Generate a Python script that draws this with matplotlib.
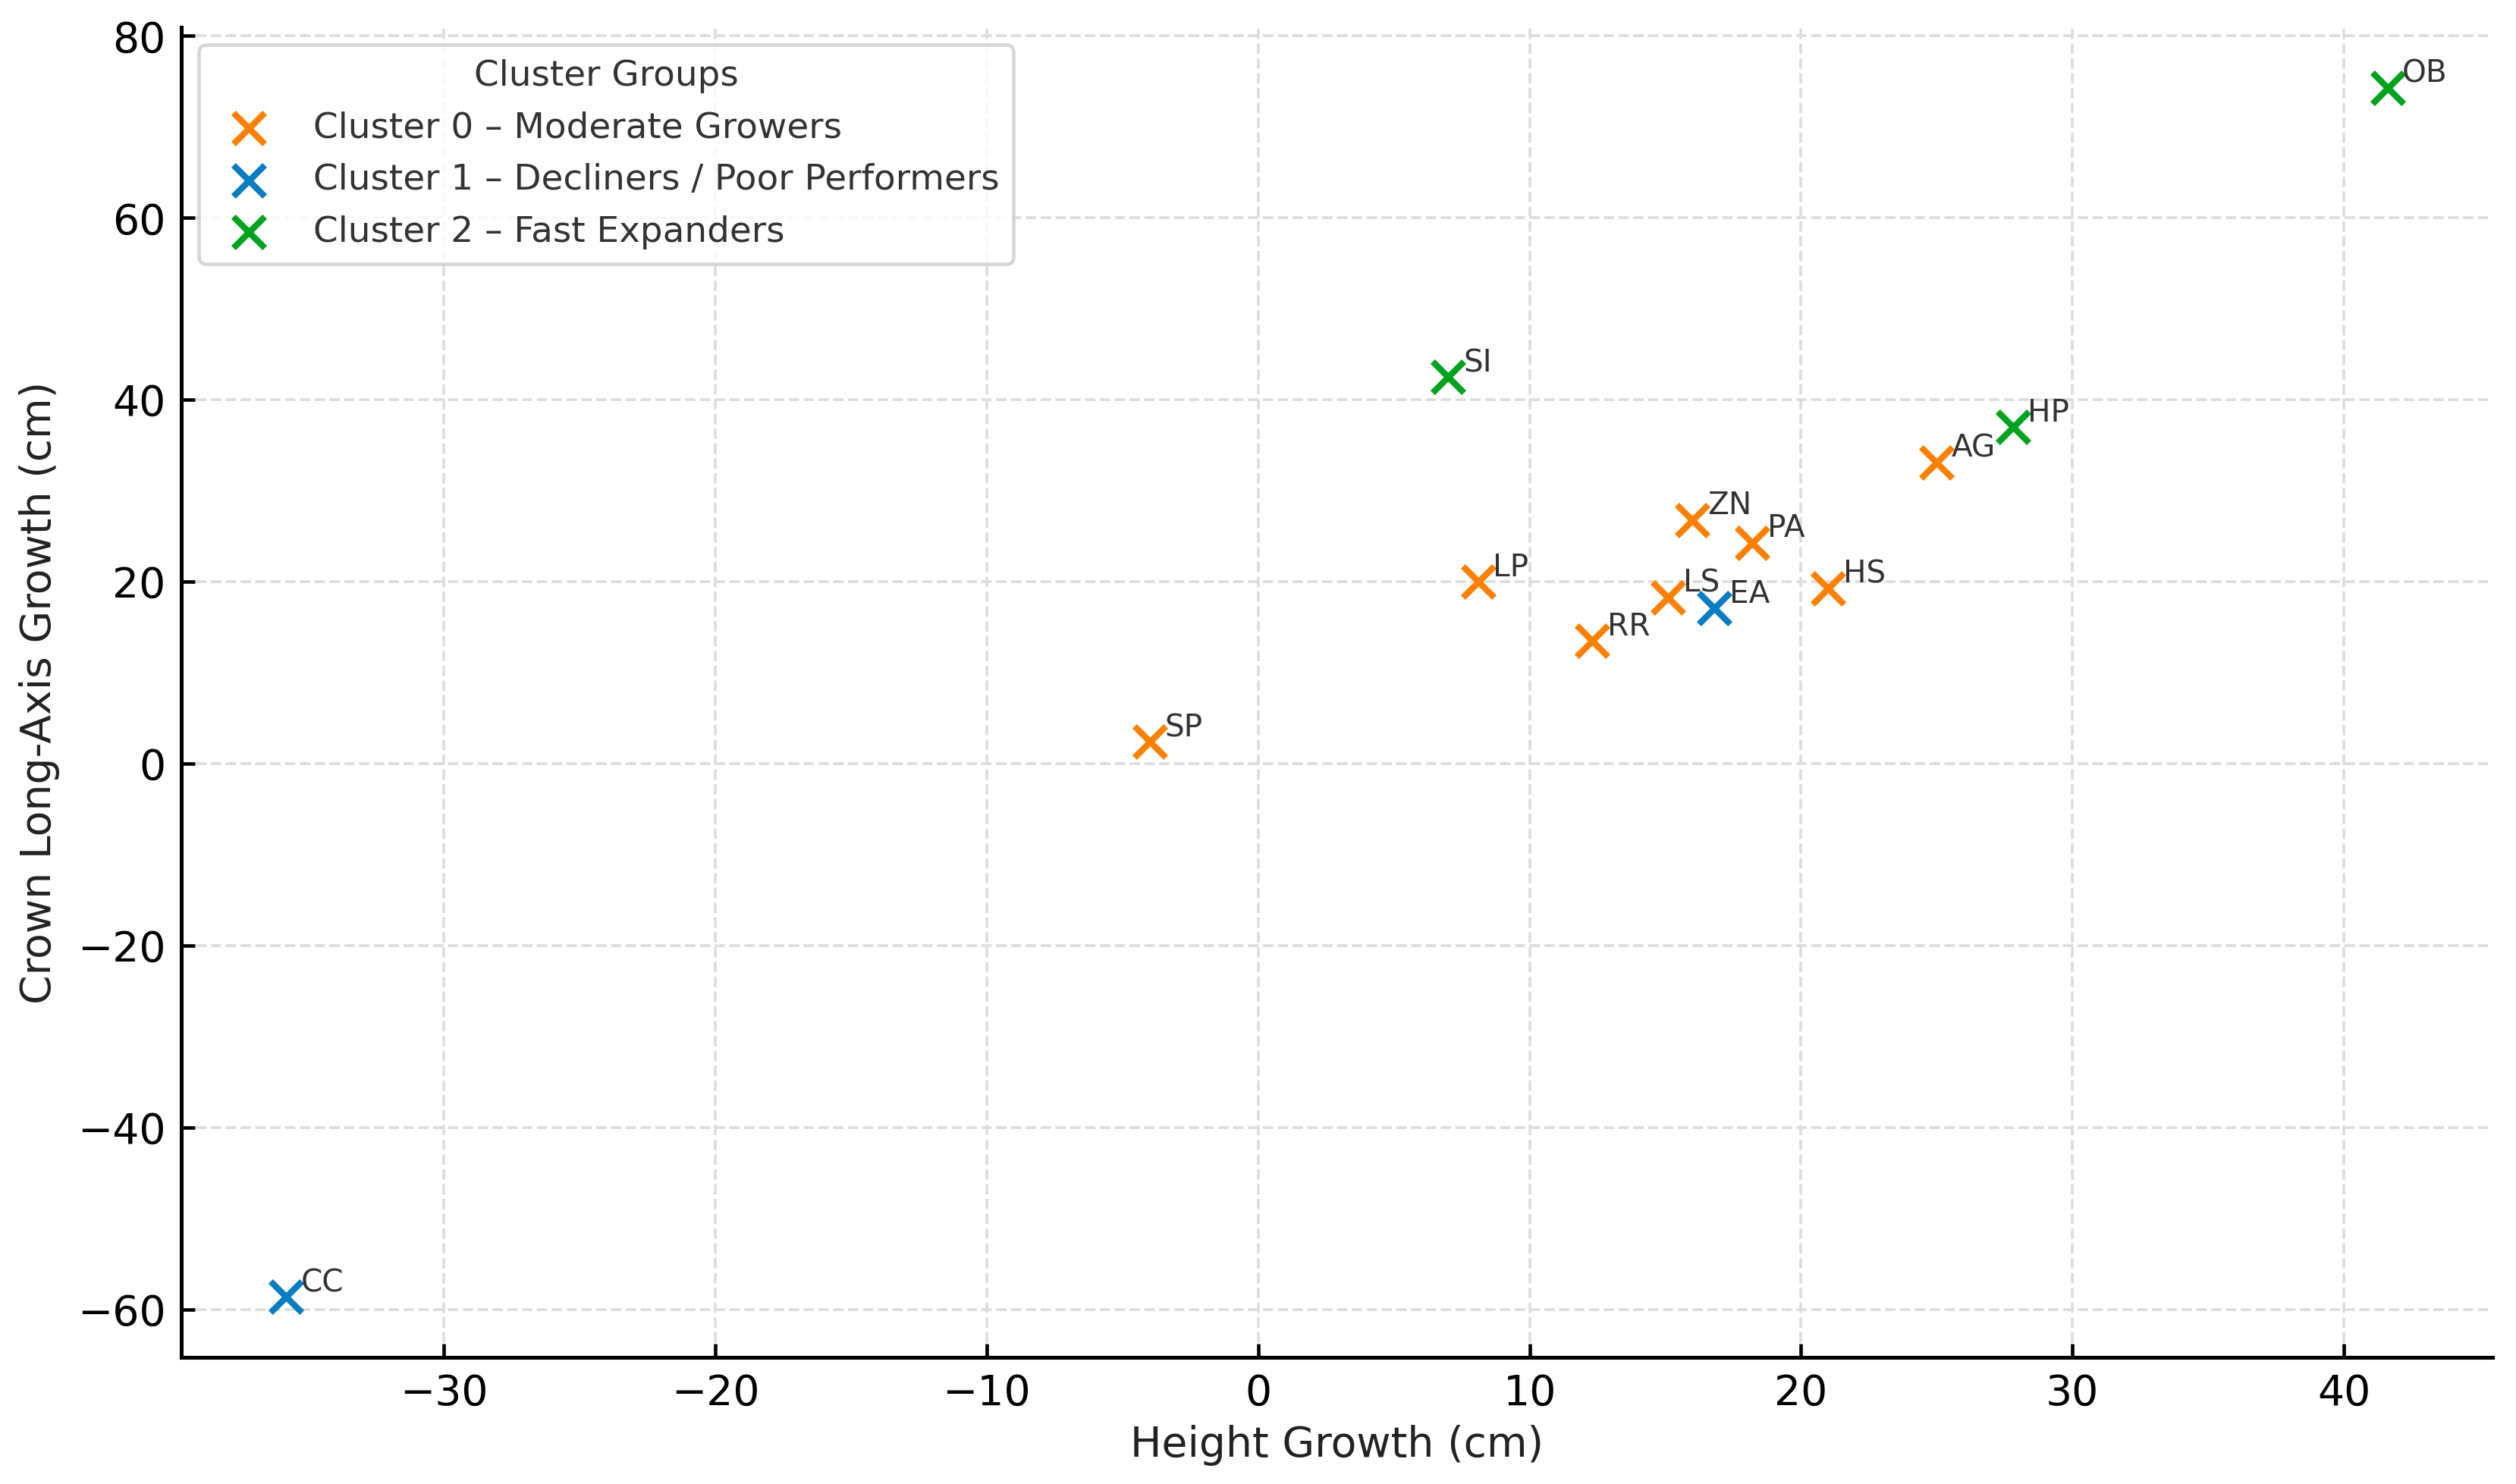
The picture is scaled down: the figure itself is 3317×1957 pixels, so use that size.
import matplotlib
matplotlib.use("Agg")
import matplotlib.pyplot as plt
import numpy as np

# species codes, cluster id and growth values
codes = ["OB", "SI", "HP", "AG", "ZN", "PA", "LP", "LS", "EA", "HS", "RR", "SP", "CC"]
height_growth = [41.6, 7.0, 27.8, 25.0, 16.0, 18.2, 8.1, 15.1, 16.8, 21.0, 12.3, -4.0, -35.8]
crown_growth = [74.3, 42.5, 37.0, 33.1, 26.8, 24.3, 20.0, 18.3, 17.1, 19.3, 13.5, 2.4, -58.6]
cluster = [2, 2, 2, 0, 0, 0, 0, 0, 1, 0, 0, 0, 1]

cluster_names = ["Cluster 0 \u2013 Moderate Growers",
                 "Cluster 1 \u2013 Decliners / Poor Performers",
                 "Cluster 2 \u2013 Fast Expanders"]
cluster_colors = ["#ff8000", "#0a7cc2", "#00a21e"]

x = np.array(height_growth)
y = np.array(crown_growth)
c = np.array(cluster)

dpi = 331.7
fig = plt.figure(figsize=(3317 / dpi, 1957 / dpi), dpi=dpi)
ax = fig.add_axes([239 / 3317, 1 - 1790 / 1957, (3286 - 239) / 3317, (1790 - 36) / 1957])

for k in range(3):
    m = c == k
    ax.scatter(x[m], y[m], marker="x", s=80, linewidths=1.8,
               color=cluster_colors[k], label=cluster_names[k], zorder=3)

for name, xi, yi in zip(codes, x, y):
    ax.text(xi + 0.55, yi + 0.6, name, fontsize=8.8, color="#333333", zorder=4)

ax.grid(True, linestyle="--", color="#dddddd", linewidth=0.8)
ax.set_axisbelow(True)
ax.spines["top"].set_visible(False)
ax.spines["right"].set_visible(False)
ax.spines["left"].set_linewidth(1.1)
ax.spines["bottom"].set_linewidth(1.1)
ax.tick_params(direction="in", labelsize=12, length=4, width=1.0, pad=4.5)

ax.set_xlabel("Height Growth (cm)", fontsize=12, color="#222222", labelpad=3)
ax.set_ylabel("Crown Long-Axis Growth (cm)", fontsize=12, color="#222222", labelpad=5)

leg = ax.legend(title="Cluster Groups", loc="upper left", fontsize=10.2,
                title_fontsize=10.2, frameon=True, fancybox=True)
leg.get_frame().set_edgecolor("#cccccc")
for t in leg.get_texts():
    t.set_color("#333333")
leg.get_title().set_color("#333333")

fig.savefig("out.png", dpi=dpi)
